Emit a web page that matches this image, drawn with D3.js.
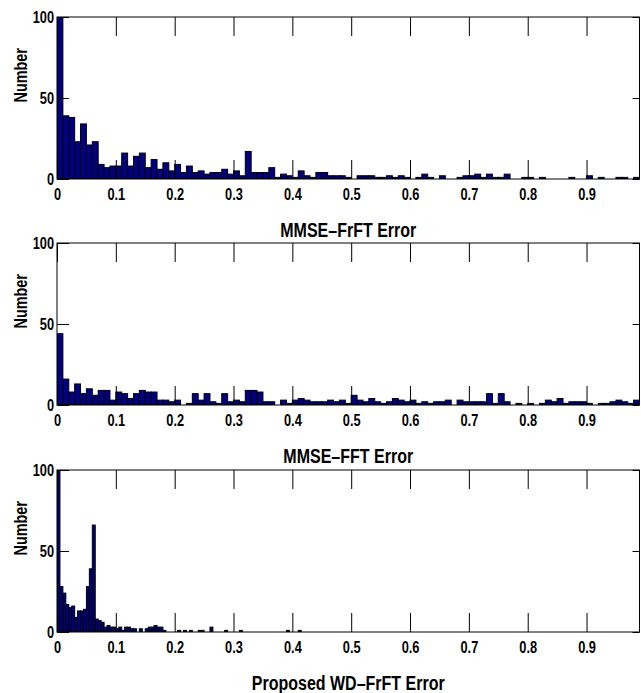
<!DOCTYPE html>
<html>
<head>
<meta charset="utf-8">
<script src="https://cdn.jsdelivr.net/npm/d3@7"></script>
<style>
    body { margin: 0; background: #ffffff; }
    text { font-family: "Liberation Sans", Arial, sans-serif; font-weight: bold; }
</style>
</head>
<body>
<div id="chart"></div>
<script>
// histogram counts, one value per bin
const frftCounts = [
    100, 39, 38, 23, 34, 21, 23, 9, 7, 8,
    8, 16, 8, 14, 16, 7, 12, 6, 10, 5,
    9, 4, 8, 4, 5, 3, 4, 4, 6, 3,
    5, 2, 17, 4, 4, 4, 7, 1, 3, 2,
    1, 5, 2, 1, 4, 4, 2, 2, 2, 1,
    0, 2, 2, 2, 1, 1, 2, 1, 2, 1,
    0, 1, 3, 1, 0, 2, 0, 0, 1, 2,
    2, 3, 1, 3, 1, 1, 3, 0, 0, 1,
    1, 0, 1, 0, 0, 0, 0, 1, 0, 0,
    2, 0, 1, 0, 0, 1, 1, 0, 1, 1
];
const fftCounts = [
    44, 16, 8, 13, 7, 10, 6, 9, 9, 3,
    8, 7, 4, 7, 9, 8, 8, 3, 3, 2,
    3, 0, 1, 7, 3, 7, 2, 1, 7, 2,
    3, 2, 9, 9, 8, 2, 2, 0, 3, 1,
    3, 4, 3, 2, 2, 2, 3, 2, 3, 1,
    6, 3, 2, 4, 2, 1, 2, 4, 3, 2,
    3, 1, 2, 1, 2, 2, 3, 0, 3, 2,
    2, 2, 2, 7, 1, 7, 2, 0, 1, 0,
    1, 0, 1, 3, 2, 4, 1, 2, 2, 2,
    1, 0, 1, 1, 2, 3, 2, 1, 3, 3
];
const wdCounts = [
    100, 28, 24, 17, 15, 16, 9, 13, 13, 14,
    28, 39, 66, 8, 7, 6, 3, 4, 3, 3,
    2, 3, 1, 3, 3, 2, 2, 0, 2, 0,
    2, 3, 3, 4, 3, 3, 1, 0, 0, 0,
    0, 1, 0, 1, 0, 1, 0, 0, 1, 1,
    0, 0, 3, 0, 0, 0, 0, 1, 0, 0,
    0, 0, 1, 0, 0, 0, 0, 0, 0, 0,
    0, 0, 0, 0, 0, 0, 0, 0, 1, 0,
    0, 0, 1
];
const binWidths = [0.01, 0.01, 0.005];
const xLabels = ["MMSE\u2013FrFT Error", "MMSE\u2013FFT Error", "Proposed WD\u2013FrFT Error"];
const xTicks = [0, 0.1, 0.2, 0.3, 0.4, 0.5, 0.6, 0.7, 0.8, 0.9];
const yTicks = [0, 50, 100];

const width = 641;
const height = 693;
const left = 57;
const right = 639.5;
const panelTops = [17, 243, 470];
const panelHeight = 162;
const barColor = "#000080";
const narrow = 0.8;

const svg = d3.select("#chart").append("svg")
    .attr("width", width)
    .attr("height", height);

const x = d3.scaleLinear().domain([0, 0.99]).range([left, right]);

// squeeze text sideways to look like a narrow bold face
function condense(sel) {
    sel.each(function () {
        const len = this.getComputedTextLength();
        d3.select(this)
            .attr("textLength", len * narrow)
            .attr("lengthAdjust", "spacingAndGlyphs");
    });
}

[frftCounts, fftCounts, wdCounts].forEach((counts, p) => {
    const top = panelTops[p];
    const bottom = top + panelHeight;
    const y = d3.scaleLinear().domain([0, 100]).range([bottom, top]);
    const w = binWidths[p];

    const g = svg.append("g");

    svg.append("clipPath").attr("id", "clip" + p)
        .append("rect")
        .attr("x", left).attr("y", top)
        .attr("width", right - left).attr("height", panelHeight);

    g.append("g")
        .attr("clip-path", `url(#clip${p})`)
        .selectAll("rect")
        .data(counts)
        .join("rect")
        .attr("x", (d, i) => x(i * w))
        .attr("y", d => y(d))
        .attr("width", x(w) - x(0))
        .attr("height", d => y(0) - y(d))
        .attr("fill", barColor)
        .attr("stroke", "#000")
        .attr("stroke-width", 1);

    // ticks point inward, on all four sides
    const bottomAxis = g.append("g")
        .attr("transform", `translate(0,${bottom})`)
        .call(d3.axisBottom(x).tickValues(xTicks).tickSize(-19).tickPadding(10)
            .tickFormat(d => d === 0 ? "0" : d3.format(".1f")(d)));
    g.append("g")
        .attr("transform", `translate(0,${top})`)
        .call(d3.axisTop(x).tickValues(xTicks).tickSize(-19).tickFormat(""));
    const leftAxis = g.append("g")
        .attr("transform", `translate(${left},0)`)
        .call(d3.axisLeft(y).tickValues(yTicks).tickSize(-12).tickPadding(3));
    g.append("g")
        .attr("transform", `translate(${right},0)`)
        .call(d3.axisRight(y).tickValues(yTicks).tickSize(-7).tickFormat(""));

    g.selectAll(".domain").remove();
    g.selectAll(".tick line").attr("stroke", "#000");
    bottomAxis.selectAll("text").attr("font-size", 16).attr("fill", "#000").attr("font-family", null).call(condense);
    leftAxis.selectAll("text").attr("font-size", 16).attr("fill", "#000").attr("font-family", null).call(condense);

    g.append("rect")
        .attr("x", left).attr("y", top)
        .attr("width", right - left).attr("height", panelHeight)
        .attr("fill", "none")
        .attr("stroke", "#000")
        .attr("stroke-width", 1);

    g.append("text")
        .attr("x", (left + right) / 2)
        .attr("y", bottom + 58)
        .attr("text-anchor", "middle")
        .attr("font-size", 20)
        .text(xLabels[p])
        .call(condense);

    g.append("text")
        .attr("transform", `translate(27,${top + panelHeight * 0.36}) rotate(-90)`)
        .attr("text-anchor", "middle")
        .attr("font-size", 18)
        .text("Number")
        .call(condense);
});
</script>
</body>
</html>
